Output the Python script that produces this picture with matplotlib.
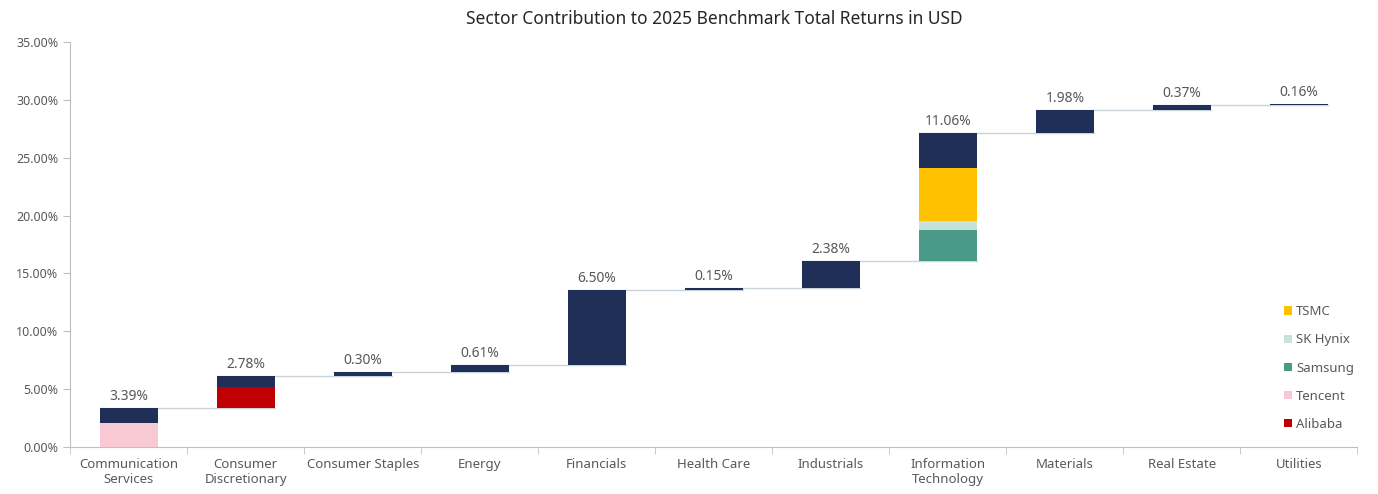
import numpy as np
import matplotlib.pyplot as plt
from matplotlib.patches import Patch
from matplotlib.ticker import FuncFormatter, MultipleLocator

plt.rcParams['font.family'] = ['Noto Sans', 'DejaVu Sans']

# セクター別の寄与度（%）
sectors = ['Communication\nServices', 'Consumer\nDiscretionary', 'Consumer Staples',
           'Energy', 'Financials', 'Health Care', 'Industrials',
           'Information\nTechnology', 'Materials', 'Real Estate', 'Utilities']
contrib = [3.39, 2.78, 0.30, 0.61, 6.50, 0.15, 2.38, 11.06, 1.98, 0.37, 0.16]

# 個別銘柄の寄与度（セクター内の下部に積み上げ）
stocks = ['TSMC', 'SK Hynix', 'Samsung', 'Tencent', 'Alibaba']
stock_sector = [7, 7, 7, 0, 1]
stock_value = [4.58, 0.78, 2.64, 2.07, 1.80]
# 積み上げ順（下から）
stack_order = ['Tencent', 'Alibaba', 'Samsung', 'SK Hynix', 'TSMC']

navy = '#1f2f57'
stock_colors = {'TSMC': '#ffc000', 'SK Hynix': '#c6e2dd', 'Samsung': '#4a9a89',
                'Tencent': '#f8c9d2', 'Alibaba': '#c00000'}
grey = '#595959'

fig = plt.figure(figsize=(13.78, 4.94), dpi=100)
ax = fig.add_axes([0.051, 0.095, 0.934, 0.82])

x = np.arange(len(sectors))
contrib = np.array(contrib)
starts = np.concatenate([[0], np.cumsum(contrib)[:-1]])
ends = starts + contrib
w = 0.5

# 銘柄部分
offset = starts.copy()
for name in stack_order:
    i = stocks.index(name)
    s = stock_sector[i]
    ax.bar(x[s], stock_value[i], bottom=offset[s], width=w,
           color=stock_colors[name], zorder=3)
    offset[s] += stock_value[i]

# 残りの部分（ネイビー）
ax.bar(x, ends - offset, bottom=offset, width=w, color=navy, zorder=3)

# コネクタ線
for i in range(len(x) - 1):
    ax.plot([x[i] - w / 2, x[i + 1] + w / 2], [ends[i], ends[i]],
            color='#c8d3dc', lw=1.0, zorder=2)

for i in range(len(x)):
    ax.text(x[i], ends[i] + 0.35, f'{contrib[i]:.2f}%', ha='center', va='bottom',
            fontsize=10, color=grey)

ax.set_xlim(-0.5, len(x) - 0.5)
ax.set_ylim(0, 35)
ax.yaxis.set_major_locator(MultipleLocator(5))
ax.yaxis.set_major_formatter(FuncFormatter(lambda v, p: f'{v:.2f}%'))
ax.set_xticks(x)
ax.set_xticklabels(sectors)
ax.set_xticks(np.arange(-0.5, len(x), 1), minor=True)
ax.tick_params(axis='x', which='major', length=0, pad=8, labelsize=9.5, labelcolor=grey)
ax.tick_params(axis='x', which='minor', length=5, color='#bfbfbf')
ax.tick_params(axis='y', length=5, color='#bfbfbf', labelsize=9, labelcolor=grey)

for sp in ['top', 'right']:
    ax.spines[sp].set_visible(False)
for sp in ['left', 'bottom']:
    ax.spines[sp].set_color('#bfbfbf')

ax.set_title('Sector Contribution to 2025 Benchmark Total Returns in USD',
             fontsize=12.5, color='#262626', pad=13)

handles = [Patch(facecolor=stock_colors[s], label=s) for s in stocks]
ax.legend(handles=handles, loc='center left', bbox_to_anchor=(0.934, 0.195),
          frameon=False, handlelength=0.6, handleheight=0.6, handletextpad=0.3,
          labelspacing=1.15, fontsize=9.5, labelcolor=grey)

plt.savefig('out.png')
